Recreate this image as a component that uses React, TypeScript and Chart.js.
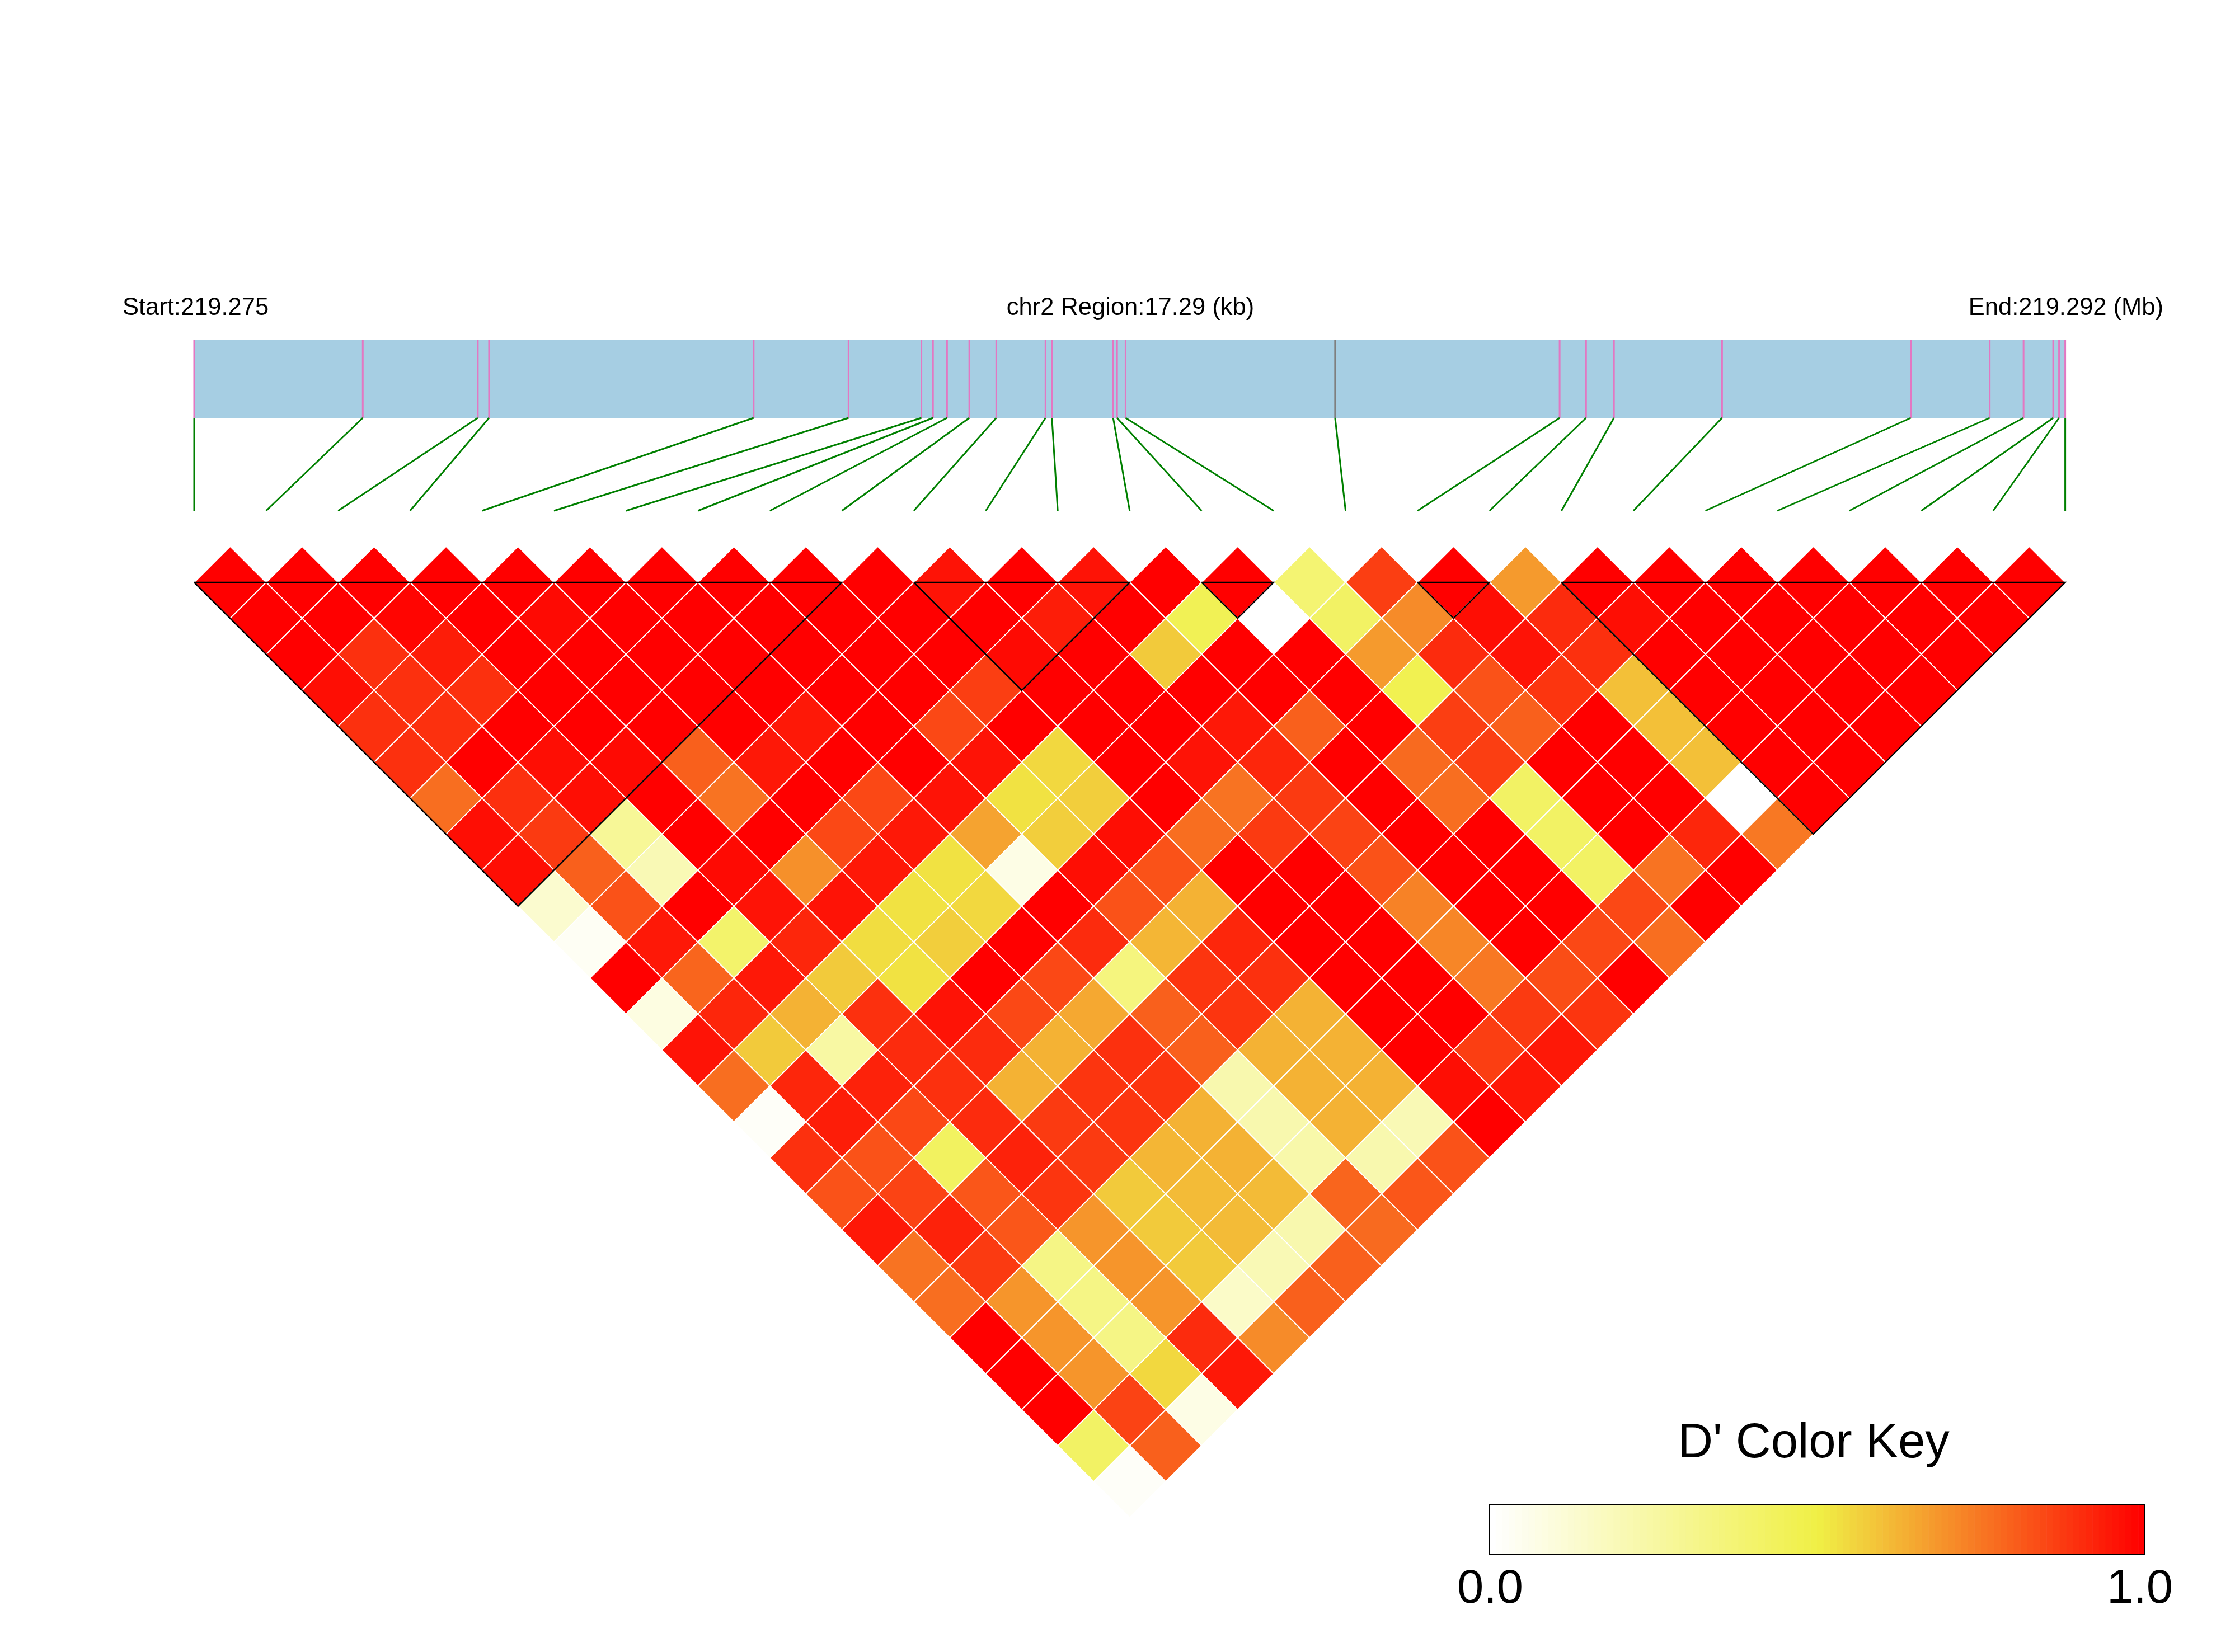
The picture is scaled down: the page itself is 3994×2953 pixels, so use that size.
import React, { useEffect, useRef } from "react";
import { Chart, registerables } from "chart.js";

Chart.register(...registerables);

// D' values. rowNN holds pairs of SNPs NN+1 apart, left to right.
const row00 = [1,1,1,1,1,1,1,1,1,1,.96,1,.96,1,1,.38,.87,1,.68,1,1,1,1,1,1,1];
const row01 = [1,1,.99,1,.98,1,1,1,1,1,1,.94,1,.46,0,.42,.71,.97,.91,.97,1,1,1,1,1];
const row02 = [1,.9,.94,1,1,1,1,1,1,1,.98,1,.58,1,1,.68,.91,.96,.9,1,1,1,1,1];
const row03 = [.97,.9,.9,1,1,1,1,1,1,.87,1,1,1,1,1,.47,.83,.89,.6,1,1,1,1];
const row04 = [.9,.9,1,1,1,1,.95,1,.85,1,1,1,.95,.8,1,.87,.8,1,.6,1,1,1];
const row05 = [.9,1,.97,.98,.8,.95,1,1,.96,.55,1,.96,.92,1,.78,.87,1,1,.6,1,1];
const row06 = [.77,.9,.97,1,.76,1,.85,.96,.53,.57,1,.76,.88,1,.77,.42,1,1,0,1];
const row07 = [.97,.88,.28,1,1,.85,.95,.66,.57,.97,.77,.88,.86,1,1,.42,1,.92,.75];
const row08 = [.97,.8,.2,.98,.7,.95,.53,.07,.97,.83,1,1,.83,1,1,.42,.76,1];
const row09 = [.13,.83,1,.96,.96,.53,.55,1,.83,.63,1,1,.73,1,1,.85,1];
const row10 = [.03,.95,.4,.92,.54,.57,1,.91,.62,.92,1,1,.72,1,.85,.77];
const row11 = [1,.79,.95,.58,.53,1,.85,.35,.89,.9,1,1,.75,.84,1];
const row12 = [.08,.92,.63,.9,.96,.85,.65,.8,.89,.63,1,1,.88,.89];
const row13 = [.96,.58,.25,.91,.91,.63,.9,.8,.63,.63,1,.87,.95];
const row14 = [.77,.92,.93,.9,.63,.89,.89,.22,.63,.63,.97,.95];
const row15 = [.02,.94,.85,.91,.88,.89,.63,.22,.63,.2,1];
const row16 = [.9,.83,.43,.93,.88,.62,.63,.23,.22,.83];
const row17 = [.83,.86,.82,.89,.58,.61,.61,.79,.82];
const row18 = [.95,.93,.82,.69,.58,.61,.22,.78];
const row19 = [.76,.88,.33,.69,.58,.2,.8];
const row20 = [.77,.69,.33,.69,.15,.8];
const row21 = [1,.69,.33,.91,.71];
const row22 = [1,.69,.55,.95];
const row23 = [1,.86,.07];
const row24 = [.42,.8];
const row25 = [.02];
const rows = [row00,row01,row02,row03,row04,row05,row06,row07,row08,row09,row10,row11,row12,row13,row14,row15,row16,row17,row18,row19,row20,row21,row22,row23,row24,row25];

// SNP positions in kb from the region start
const snpKb = [0,1.558,2.621,2.725,5.17,6.047,6.72,6.827,6.957,7.163,7.412,7.867,7.926,8.492,8.528,8.607,10.543,12.618,12.862,13.12,14.119,15.863,16.592,16.905,17.179,17.233,17.29];
const regionKb = 17.29;
// LD blocks as first and last SNP
const blocks = [[0,9],[10,13],[14,15],[17,18],[19,26]];
const grayTick = [16];

const startLabel = "Start:219.275";
const regionLabel = "chr2 Region:17.29 (kb)";
const endLabel = "End:219.292 (Mb)";
const keyTitle = "D' Color Key";
const keyMin = "0.0";
const keyMax = "1.0";

const W = 3994, H = 2953;
const X0 = 347, CELL = 128.6, Y0 = 1041, ROW = 64.3;
const FONT = '"Liberation Sans", Arial, sans-serif';

function colour(v: number) {
  const y = [240, 240, 70];
  if (v <= 0.5) {
    const t = v / 0.5;
    return `rgb(${Math.round(255 + (y[0] - 255) * t)},${Math.round(255 + (y[1] - 255) * t)},${Math.round(255 + (y[2] - 255) * t)})`;
  }
  const t = (v - 0.5) / 0.5;
  return `rgb(${Math.round(y[0] + 15 * t)},${Math.round(y[1] * (1 - t))},${Math.round(y[2] * (1 - t))})`;
}

const kbToX = (kb: number) => (kb / regionKb) * (snpKb.length - 1);
const BAR_TOP = (607 - Y0) / ROW, BAR_BOTTOM = (747 - Y0) / ROW, LINK_BOTTOM = (913 - Y0) / ROW;
const gap = { x: NaN, y: NaN };

export default function App() {
  const ref = useRef<HTMLCanvasElement>(null);
  useEffect(() => {
    document.body.style.margin = "0";
    const cells: any[] = [];
    const fills: string[] = [];
    rows.forEach((vals, r) =>
      vals.forEach((v, k) => {
        cells.push({ x: k + (r + 1) / 2, y: r });
        fills.push(colour(v));
      })
    );
    const pink: any[] = [], gray: any[] = [], green: any[] = [], black: any[] = [];
    snpKb.forEach((kb, i) => {
      const x = kbToX(kb);
      const t = grayTick.includes(i) ? gray : pink;
      t.push({ x, y: BAR_TOP }, { x, y: BAR_BOTTOM }, gap);
      green.push({ x, y: BAR_BOTTOM }, { x: i, y: LINK_BOTTOM }, gap);
    });
    blocks.forEach(([a, b]) => {
      black.push({ x: a, y: 0 }, { x: b, y: 0 }, { x: (a + b) / 2, y: b - a }, { x: a, y: 0 }, gap);
    });
    const lineSet = (data: any[], color: string, width: number, order: number) => ({
      type: "scatter" as const, data, showLine: true, pointRadius: 0, borderColor: color,
      borderWidth: width, spanGaps: false, order, clip: false as any,
    });

    const decor = {
      id: "decor",
      beforeDatasetsDraw(chart: any) {
        const { ctx, scales: { x, y } } = chart;
        ctx.save();
        ctx.fillStyle = "#A6CEE3";
        const xa = x.getPixelForValue(kbToX(0)), xb = x.getPixelForValue(kbToX(regionKb));
        const ya = y.getPixelForValue(BAR_TOP), yb = y.getPixelForValue(BAR_BOTTOM);
        ctx.fillRect(xa, ya, xb - xa, yb - ya);
        ctx.restore();
      },
      afterDraw(chart: any) {
        const { ctx } = chart;
        ctx.save();
        ctx.fillStyle = "#000";
        ctx.textBaseline = "alphabetic";
        ctx.font = `43.5px ${FONT}`;
        ctx.textAlign = "left";
        ctx.fillText(startLabel, 219, 563);
        ctx.textAlign = "center";
        ctx.fillText(regionLabel, 2020, 563);
        ctx.textAlign = "right";
        ctx.fillText(endLabel, 3866, 563);

        const kx0 = 2661, kx1 = 3833, ky0 = 2690, ky1 = 2779, n = 100;
        for (let i = 0; i < n; i++) {
          ctx.fillStyle = colour(i / (n - 1));
          const a = kx0 + ((kx1 - kx0) * i) / n;
          ctx.fillRect(a, ky0, (kx1 - kx0) / n + 0.6, ky1 - ky0);
        }
        ctx.strokeStyle = "#000";
        ctx.lineWidth = 2;
        ctx.strokeRect(kx0, ky0, kx1 - kx0, ky1 - ky0);

        ctx.fillStyle = "#000";
        ctx.textAlign = "center";
        ctx.font = `87px ${FONT}`;
        ctx.fillText(keyTitle, 3241, 2605);
        ctx.font = `85px ${FONT}`;
        ctx.fillText(keyMin, 2663, 2865);
        ctx.fillText(keyMax, 3824, 2865);
        ctx.restore();
      },
    };

    const chart = new Chart(ref.current!, {
      type: "scatter",
      data: {
        datasets: [
          lineSet(black, "#000000", 2.5, 0),
          lineSet(green, "#008000", 3, 1),
          lineSet(gray, "#7f7f7f", 3, 2),
          lineSet(pink, "#E377C2", 3, 3),
          {
            type: "scatter" as const, data: cells, order: 10, pointStyle: "rectRot",
            pointRadius: ROW, pointHoverRadius: ROW, pointBackgroundColor: fills,
            pointBorderColor: "#ffffff", pointBorderWidth: 2, clip: false as any,
          },
        ],
      },
      options: {
        responsive: false,
        animation: false,
        devicePixelRatio: 1,
        events: [],
        layout: { padding: 0, autoPadding: false },
        plugins: { legend: { display: false }, tooltip: { enabled: false }, title: { display: false } },
        scales: {
          x: { type: "linear", display: false, min: -X0 / CELL, max: (W - X0) / CELL },
          y: { type: "linear", display: false, reverse: true, min: -Y0 / ROW, max: (H - Y0) / ROW },
        },
      } as any,
      plugins: [decor],
    });
    return () => chart.destroy();
  }, []);
  return <canvas ref={ref} width={W} height={H} style={{ display: "block", width: W, height: H }} />;
}
